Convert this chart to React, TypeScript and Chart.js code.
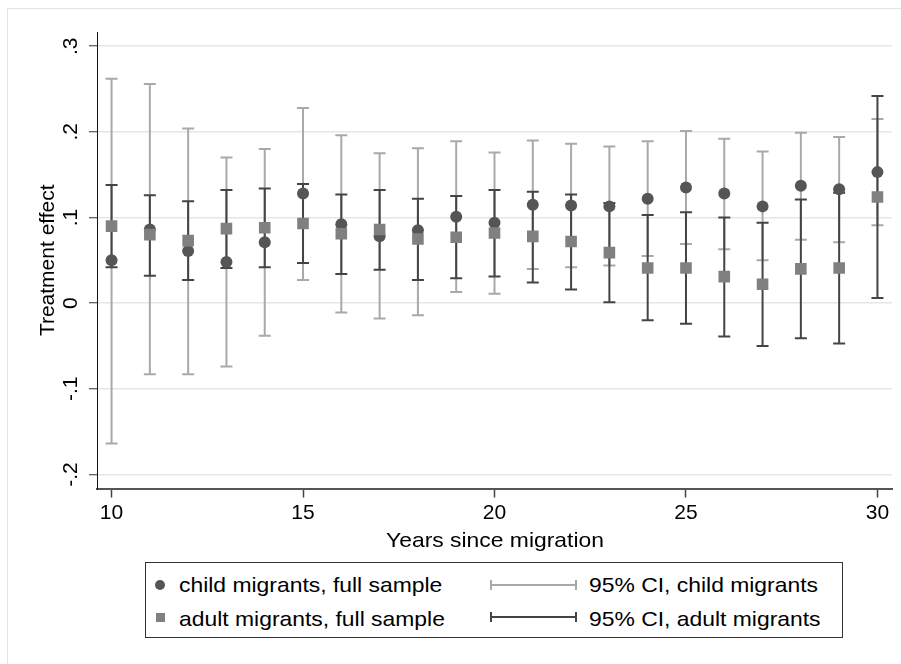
import React, { useEffect, useRef } from "react";
import { Chart, registerables } from "chart.js";

Chart.register(...registerables);

// ---------- data ----------
const years = [10, 11, 12, 13, 14, 15, 16, 17, 18, 19, 20, 21, 22, 23, 24, 25, 26, 27, 28, 29, 30];

const childEffect = [0.05, 0.086, 0.061, 0.048, 0.071, 0.128, 0.092, 0.078, 0.085, 0.101, 0.094, 0.115, 0.114, 0.113, 0.122, 0.135, 0.128, 0.113, 0.137, 0.133, 0.153];
const childLo = [-0.164, -0.083, -0.083, -0.074, -0.038, 0.027, -0.011, -0.018, -0.014, 0.013, 0.011, 0.04, 0.042, 0.044, 0.055, 0.069, 0.063, 0.05, 0.074, 0.071, 0.091];
const childHi = [0.262, 0.256, 0.204, 0.17, 0.18, 0.228, 0.196, 0.175, 0.181, 0.189, 0.176, 0.19, 0.186, 0.183, 0.189, 0.201, 0.192, 0.177, 0.199, 0.194, 0.215];

const adultEffect = [0.09, 0.08, 0.073, 0.087, 0.088, 0.093, 0.081, 0.086, 0.075, 0.077, 0.082, 0.078, 0.072, 0.059, 0.041, 0.041, 0.031, 0.022, 0.04, 0.041, 0.124];
const adultLo = [0.042, 0.032, 0.027, 0.041, 0.042, 0.047, 0.034, 0.039, 0.027, 0.029, 0.031, 0.024, 0.016, 0.001, -0.02, -0.024, -0.039, -0.05, -0.041, -0.047, 0.006];
const adultHi = [0.138, 0.126, 0.119, 0.132, 0.134, 0.139, 0.127, 0.132, 0.122, 0.125, 0.132, 0.13, 0.127, 0.117, 0.103, 0.106, 0.1, 0.094, 0.121, 0.129, 0.242];

const xTicks = [10, 15, 20, 25, 30];
const yTicks = [-0.2, -0.1, 0, 0.1, 0.2, 0.3];
const yTickLabels = ["-.2", "-.1", "0", ".1", ".2", ".3"];

const xTitle = "Years since migration";
const yTitle = "Treatment effect";
const seriesLabels = ["child migrants, full sample", "adult migrants, full sample"];
const ciLabels = ["95% CI, child migrants", "95% CI, adult migrants"];

// ---------- style ----------
const FONT = "'Liberation Sans', Arial, Helvetica, sans-serif";
const FS = 21;
const STRETCH = 1.09;
const C_CHILD = "#555555";
const C_ADULT = "#808080";
const C_CI_CHILD = "#a9a9a9";
const C_CI_ADULT = "#444444";

const ciPlugin = {
  id: "ciBars",
  beforeDatasetsDraw(chart: any) {
    const ctx = chart.ctx;
    const xs = chart.scales.x;
    const ys = chart.scales.y;
    const draw = (lo: number[], hi: number[], color: string) => {
      ctx.save();
      ctx.strokeStyle = color;
      ctx.lineWidth = 2;
      ctx.lineCap = "butt";
      years.forEach((yr, i) => {
        const px = xs.getPixelForValue(yr);
        const pl = ys.getPixelForValue(lo[i]);
        const ph = ys.getPixelForValue(hi[i]);
        ctx.beginPath();
        ctx.moveTo(px, pl);
        ctx.lineTo(px, ph);
        ctx.moveTo(px - 6, pl);
        ctx.lineTo(px + 6, pl);
        ctx.moveTo(px - 6, ph);
        ctx.lineTo(px + 6, ph);
        ctx.stroke();
      });
      ctx.restore();
    };
    draw(childLo, childHi, C_CI_CHILD);
    draw(adultLo, adultHi, C_CI_ADULT);
  },
};

export default function App() {
  const ref = useRef<HTMLCanvasElement | null>(null);

  useEffect(() => {
    if (!ref.current) return;
    const chart = new Chart(ref.current, {
      type: "scatter",
      data: {
        datasets: [
          {
            label: seriesLabels[0],
            data: years.map((x, i) => ({ x, y: childEffect[i] })),
            pointStyle: "circle",
            pointRadius: 6,
            pointBackgroundColor: C_CHILD,
            pointBorderWidth: 0,
            order: 2,
          },
          {
            label: seriesLabels[1],
            data: years.map((x, i) => ({ x, y: adultEffect[i] })),
            pointStyle: "rect",
            pointRadius: 8.2,
            pointBackgroundColor: C_ADULT,
            pointBorderWidth: 0,
            order: 1,
          },
        ],
      },
      options: {
        responsive: false,
        animation: false,
        devicePixelRatio: 1,
        layout: { padding: { left: 0, top: 32, right: 9, bottom: 0 } },
        plugins: { legend: { display: false }, tooltip: { enabled: false } },
        scales: {
          x: {
            type: "linear",
            min: 9.62,
            max: 30.38,
            afterBuildTicks: (s: any) => {
              s.ticks = xTicks.map((v) => ({ value: v }));
            },
            afterFit: (s: any) => {
              s.height = 175.5;
            },
            grid: { drawOnChartArea: false, drawTicks: true, tickLength: 9, tickColor: "#444", tickWidth: 1.5 },
            border: { display: true, color: "#555", width: 2 },
            ticks: {
              font: { family: FONT, size: FS },
              color: "#000",
              padding: 3,
              maxRotation: 0,
              autoSkip: false,
              callback: (v: any) => String(v),
            },
            title: { display: false },
          },
          y: {
            type: "linear",
            min: -0.2164,
            max: 0.3166,
            afterBuildTicks: (s: any) => {
              s.ticks = yTicks.map((v) => ({ value: v }));
            },
            afterFit: (s: any) => {
              s.width = 97;
            },
            grid: { color: "#e6e6e6", lineWidth: 1.5, drawTicks: true, tickLength: 8, tickColor: "#333", tickWidth: 1 },
            border: { display: true, color: "#111", width: 1 },
            ticks: {
              font: { family: FONT, size: FS },
              color: "#000",
              minRotation: 90,
              maxRotation: 90,
              crossAlign: "center",
              padding: 6,
              autoSkip: false,
              callback: (_v: any, i: number) => yTickLabels[i],
            },
            title: {
              display: true,
              text: yTitle,
              font: { family: FONT, size: FS },
              color: "#000",
              padding: { top: 36, bottom: 0 },
            },
          },
        },
      },
      plugins: [ciPlugin],
    } as any);
    return () => chart.destroy();
  }, []);

  const textStyle: React.CSSProperties = {
    position: "absolute",
    fontFamily: FONT,
    fontSize: FS,
    lineHeight: "24px",
    color: "#000",
    whiteSpace: "nowrap",
    transform: `scaleX(${STRETCH})`,
    transformOrigin: "0 50%",
  };

  const ciSymbol = (top: number, color: string) => (
    <div style={{ position: "absolute", left: 490, top: top - 5, width: 87, height: 10 }}>
      <div style={{ position: "absolute", left: 0, top: 4, width: 87, height: 2, background: color }} />
      <div style={{ position: "absolute", left: 0, top: 0, width: 2, height: 10, background: color }} />
      <div style={{ position: "absolute", left: 85, top: 0, width: 2, height: 10, background: color }} />
    </div>
  );

  return (
    <div style={{ position: "absolute", left: 0, top: 0, width: 901, height: 664, overflow: "hidden", background: "#fff" }}>
      <div
        style={{
          position: "absolute",
          left: 7,
          top: 8,
          width: 900,
          height: 660,
          border: "1px solid #e4e4e4",
          boxSizing: "border-box",
        }}
      />
      <canvas ref={ref} width={901} height={664} style={{ position: "absolute", left: 0, top: 0, width: 901, height: 664 }} />
      <div
        style={{
          ...textStyle,
          left: 494.5,
          top: 528,
          transform: `translateX(-50%) scaleX(${STRETCH})`,
          transformOrigin: "50% 50%",
        }}
      >
        {xTitle}
      </div>
      <div
        style={{
          position: "absolute",
          left: 145,
          top: 562,
          width: 698,
          height: 76,
          border: "1px solid #333",
          boxSizing: "border-box",
          background: "#fff",
        }}
      />
      <div style={{ position: "absolute", left: 155, top: 580, width: 10, height: 10, borderRadius: "50%", background: C_CHILD }} />
      <div style={{ position: "absolute", left: 155.5, top: 613, width: 9, height: 9, background: C_ADULT }} />
      <div style={{ ...textStyle, left: 179, top: 572.5 }}>{seriesLabels[0]}</div>
      <div style={{ ...textStyle, left: 179, top: 606.5 }}>{seriesLabels[1]}</div>
      {ciSymbol(585, C_CI_CHILD)}
      {ciSymbol(617, C_CI_ADULT)}
      <div style={{ ...textStyle, left: 589, top: 572.5 }}>{ciLabels[0]}</div>
      <div style={{ ...textStyle, left: 589, top: 606.5 }}>{ciLabels[1]}</div>
    </div>
  );
}
